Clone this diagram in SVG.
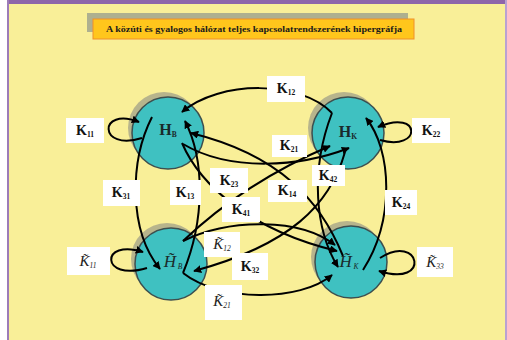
<svg xmlns="http://www.w3.org/2000/svg" width="507" height="340" viewBox="0 0 507 340">
<style>
.node{fill:#3FC1C1;stroke:#3C4F4F;stroke-width:1.5}
.shadow{fill:#ABA98A;opacity:0.85}
.edge{fill:none;stroke:#000;stroke-width:2}
.lb{fill:#fff}
.k{font-family:"Liberation Serif",serif;font-weight:bold;font-size:14px;fill:#111}
.kt{font-family:"Liberation Serif",serif;font-style:italic;font-size:15px;fill:#222}
.sub{font-size:7.5px}
.hn{font-family:"Liberation Serif",serif;font-weight:bold;font-size:16px;fill:#1a2a2a}
.ht{font-family:"Liberation Serif",serif;font-style:italic;font-size:17px;fill:#1a2a2a}
</style>
<defs>
<marker id="ah" viewBox="0 0 10 10" refX="9" refY="5" markerWidth="4" markerHeight="4" orient="auto" markerUnits="strokeWidth">
<path d="M0,0 L10,5 L0,10 z" fill="#000"/>
</marker>
</defs>
<rect x="0" y="0" width="507" height="340" fill="#fff"/>
<rect x="8" y="4" width="497" height="336" fill="#F9EF98"/>
<rect x="7" y="0" width="499" height="4" fill="#8E66AA"/>
<rect x="7" y="0" width="2" height="340" fill="#9C7CB8"/>
<rect x="505" y="0" width="2" height="340" fill="#B9A2D2"/>

<g id="title">
<rect x="87" y="13" width="321" height="19" fill="#AEB08F"/>
<rect x="93" y="19" width="321" height="20" fill="#FFC61C" stroke="#F0902A" stroke-width="1"/>
<text x="254" y="32" font-family="Liberation Serif,serif" font-weight="bold" font-size="9" text-anchor="middle" textLength="296" lengthAdjust="spacingAndGlyphs" fill="#1a1a1a">A közúti és gyalogos hálózat teljes kapcsolatrendszerének hipergráfja</text>
</g>

<g id="node-HB">
<circle class="shadow" cx="164" cy="128" r="36"/>
<circle class="node" cx="168" cy="133" r="36"/>
<text class="hn" x="168" y="135" text-anchor="middle">H<tspan class="sub" dy="2">B</tspan></text>
</g>
<g id="node-HK">
<circle class="shadow" cx="344" cy="128" r="36"/>
<circle class="node" cx="348" cy="133" r="36"/>
<text class="hn" x="348" y="137" text-anchor="middle">H<tspan class="sub" dy="2">K</tspan></text>
</g>
<g id="node-HtB">
<circle class="shadow" cx="167" cy="259" r="36"/>
<circle class="node" cx="171" cy="264" r="36"/>
<text class="ht" x="173" y="267" text-anchor="middle">H̃<tspan class="sub" dy="2"> B</tspan></text>
</g>
<g id="node-HtK">
<circle class="shadow" cx="347" cy="257" r="36"/>
<circle class="node" cx="351" cy="262" r="36"/>
<text class="ht" x="349" y="267" text-anchor="middle">H̃<tspan class="sub" dy="2"> K</tspan></text>
</g>

<g id="connectors">
<path class="edge" marker-end="url(#ah)" d="M332,113 C300,80 220,80 182,112"/>
<path class="edge" marker-end="url(#ah)" d="M183,144 C230,172 300,167 349,148"/>
<path class="edge" marker-end="url(#ah)" d="M183,273 C205,220 205,160 185,121"/>
<path class="edge" marker-end="url(#ah)" d="M152,117 C130,160 128,230 160,269"/>
<path class="edge" marker-end="url(#ah)" d="M363,270 C395,220 392,150 366,118"/>
<path class="edge" marker-end="url(#ah)" d="M332,113 C310,170 315,230 338,267"/>
<path class="edge" marker-end="url(#ah)" d="M183,273 C220,302 300,302 332,275"/>
<path class="edge" marker-end="url(#ah)" d="M183,241 C230,218 300,218 335,245"/>
<path class="edge" marker-end="url(#ah)" d="M183,241 Q245,182 330,146"/>
<path class="edge" marker-end="url(#ah)" d="M345,152 C330,205 290,245 194,271"/>
<path class="edge" marker-end="url(#ah)" d="M182,143 C200,185 250,230 337,251"/>
<path class="edge" marker-end="url(#ah)" d="M343,256 C320,200 280,155 191,133"/>
<path class="edge" marker-end="url(#ah)" d="M142,138 C98,152 98,106 139,122"/>
<path class="edge" marker-end="url(#ah)" d="M380,140 C422,152 422,108 378,127"/>
<path class="edge" marker-end="url(#ah)" d="M147,268 C100,282 100,238 143,252"/>
<path class="edge" marker-end="url(#ah)" d="M380,258 C420,232 432,288 379,271"/>
</g>

<g id="label-K11"><rect class="lb" x="66" y="118" width="38" height="25"/><text class="k" x="85" y="135" text-anchor="middle">K<tspan class="sub" dy="2">11</tspan></text></g>
<g id="label-K12"><rect class="lb" x="267" y="76" width="38" height="26"/><text class="k" x="286" y="93" text-anchor="middle">K<tspan class="sub" dy="2">12</tspan></text></g>
<g id="label-K22"><rect class="lb" x="412" y="118" width="38" height="25"/><text class="k" x="431" y="135" text-anchor="middle">K<tspan class="sub" dy="2">22</tspan></text></g>
<g id="label-K31"><rect class="lb" x="103" y="180" width="37" height="26"/><text class="k" x="121" y="197" text-anchor="middle">K<tspan class="sub" dy="2">31</tspan></text></g>
<g id="label-K13"><rect class="lb" x="170" y="180" width="31" height="25"/><text class="k" x="185" y="197" text-anchor="middle">K<tspan class="sub" dy="2">13</tspan></text></g>
<g id="label-K21"><rect class="lb" x="272" y="135" width="35" height="22"/><text class="k" x="289" y="150" text-anchor="middle">K<tspan class="sub" dy="2">21</tspan></text></g>
<g id="label-K23"><rect class="lb" x="210" y="168" width="38" height="25"/><text class="k" x="229" y="185" text-anchor="middle">K<tspan class="sub" dy="2">23</tspan></text></g>
<g id="label-K14"><rect class="lb" x="268" y="180" width="39" height="22"/><text class="k" x="287" y="195" text-anchor="middle">K<tspan class="sub" dy="2">14</tspan></text></g>
<g id="label-K42"><rect class="lb" x="312" y="165" width="33" height="21"/><text class="k" x="328" y="180" text-anchor="middle">K<tspan class="sub" dy="2">42</tspan></text></g>
<g id="label-K41"><rect class="lb" x="222" y="197" width="38" height="25"/><text class="k" x="241" y="214" text-anchor="middle">K<tspan class="sub" dy="2">41</tspan></text></g>
<g id="label-K24"><rect class="lb" x="385" y="190" width="32" height="25"/><text class="k" x="401" y="207" text-anchor="middle">K<tspan class="sub" dy="2">24</tspan></text></g>
<g id="label-K32"><rect class="lb" x="232" y="253" width="36" height="27"/><text class="k" x="250" y="271" text-anchor="middle">K<tspan class="sub" dy="2">32</tspan></text></g>
<g id="label-Kt12"><rect class="lb" x="204" y="232" width="36" height="25"/><text class="kt" x="222" y="249" text-anchor="middle">K̃<tspan class="sub" dy="2">12</tspan></text></g>
<g id="label-Kt21"><rect class="lb" x="205" y="285" width="37" height="35"/><text class="kt" x="222" y="306" text-anchor="middle">K̃<tspan class="sub" dy="2">21</tspan></text></g>
<g id="label-Kt11"><rect class="lb" x="67" y="247" width="43" height="28"/><text class="kt" x="88" y="266" text-anchor="middle">K̃<tspan class="sub" dy="2">11</tspan></text></g>
<g id="label-Kt33"><rect class="lb" x="417" y="247" width="36" height="30"/><text class="kt" x="435" y="267" text-anchor="middle">K̃<tspan class="sub" dy="2">33</tspan></text></g>
</svg>
